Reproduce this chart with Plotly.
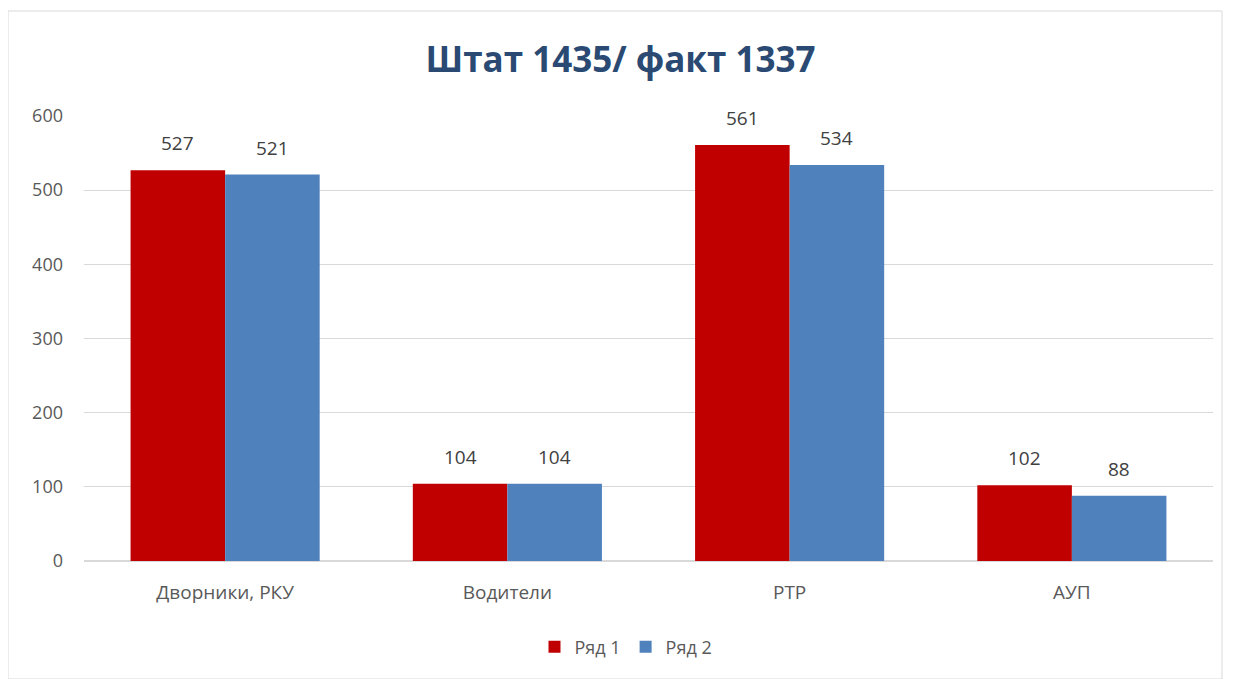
import plotly.graph_objects as go

categories = ["Дворники, РКУ", "Водители", "РТР", "АУП"]
series1 = [527, 104, 561, 102]
series2 = [521, 104, 534, 88]
series_names = ["Ряд 1", "Ряд 2"]
colors = ["#C00000", "#4F81BD"]
y_ticks = [0, 100, 200, 300, 400, 500, 600]

# page body has an 8px margin; work in figure coordinates = screen - 8
OFF = 8
W, H = 1233 - OFF, 679 - OFF
ml, mr, mt, mb = 84 - OFF, 1233 - 1213, 116 - OFF, 679 - 561

pw = W - ml - mr
ph = H - mt - mb
def px(x):
    return (x - OFF - ml) / pw
def py(y):
    return (H - mb - (y - OFF)) / ph

bargap = 0.33
bw = (1 - bargap) / 2

fig = go.Figure()
annotations = []
for s, (vals, name, col) in enumerate(zip([series1, series2], series_names, colors)):
    fig.add_trace(go.Bar(x=list(range(len(categories))), y=vals, name=name,
                         marker_color=col, marker_line_width=0))
    for i, v in enumerate(vals):
        annotations.append(dict(x=i + (s - 0.5) * bw, y=v, xref="x", yref="y",
                                text=str(v), showarrow=False, yshift=27,
                                font=dict(size=19, color="#404040")))

fig.update_layout(
    width=W, height=H,
    margin=dict(l=ml, r=mr, t=mt, b=mb, pad=0),
    paper_bgcolor="white", plot_bgcolor="white",
    font=dict(family="Open Sans", color="#595959", size=19),
    title=dict(text="<b>Штат 1435/ факт 1337</b>", x=0.5, xanchor="center",
               y=1 - (60 - OFF) / H, yanchor="middle",
               font=dict(family="Open Sans", size=35, color="#2A4A73")),
    barmode="group", bargap=bargap, bargroupgap=0,
    showlegend=True,
    legend=dict(orientation="h", x=px(626), xanchor="center", y=py(647), yanchor="middle",
                font=dict(size=18, color="#595959"), itemwidth=30, traceorder="normal"),
    xaxis=dict(showgrid=False, showline=False, ticks="", tickfont=dict(size=19),
               tickvals=list(range(len(categories))), ticktext=categories,
               range=[-0.5, len(categories) - 0.5], ticklabelstandoff=18),
    yaxis=dict(range=[0, 600], tickvals=y_ticks, showgrid=True, gridcolor="#D9D9D9",
               gridwidth=1, zeroline=True, zerolinecolor="#D9D9D9", showline=False,
               ticks="", ticklabelstandoff=20, tickfont=dict(size=18)),
    annotations=annotations,
    shapes=[dict(type="rect", xref="paper", yref="paper",
                 x0=px(8), x1=px(1222), y0=py(679), y1=py(11),
                 line=dict(color="#D9D9D9", width=1), fillcolor="rgba(0,0,0,0)", layer="below")],
)

fig.write_html("out.html")
